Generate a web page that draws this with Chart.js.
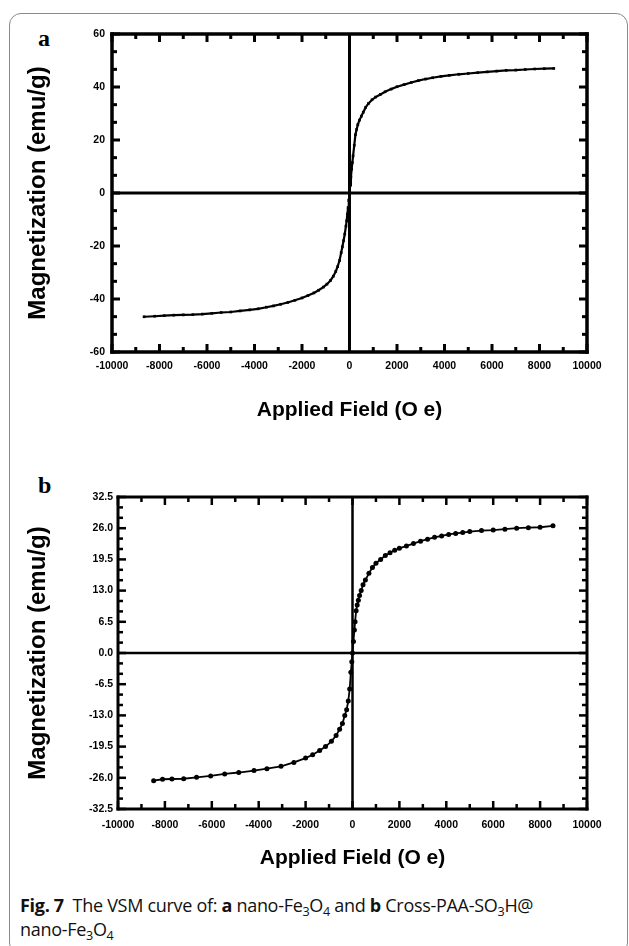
<!DOCTYPE html>
<html>
<head>
<meta charset="utf-8">
<script src="https://cdn.jsdelivr.net/npm/chart.js@4.4.0/dist/chart.umd.min.js"></script>
<style>
  body { margin: 0; background: #fff; width: 629px; height: 946px; overflow: hidden; position: relative; }
  #box { position: absolute; left: 9px; top: 13px; width: 617px; height: 940px; border: 1.5px solid #8a8a8a; border-radius: 12px; }
  .wrap { position: absolute; left: 0; width: 629px; }
  .tag { position: absolute; font: bold 24px "Liberation Serif"; color: #000; }
  #caption { position: absolute; left: 20px; top: 893px; font: 18px "Open Sans"; line-height: 24px; color: #111; letter-spacing: -0.3px; }
  #caption sub { font-size: 0.7em; vertical-align: -0.3em; line-height: 0; }
</style>
</head>
<body>
<div id="box"></div>
<div class="tag" style="left:38px; top:25px;">a</div>
<div class="tag" style="left:38px; top:472px;">b</div>
<div class="wrap" style="top:20px; height:410px;"><canvas id="chartA"></canvas></div>
<div class="wrap" style="top:460px; height:420px;"><canvas id="chartB"></canvas></div>
<div id="caption"><b>Fig. 7</b>&nbsp; The VSM curve of: <b>a</b> nano-Fe<sub>3</sub>O<sub>4</sub> and <b>b</b> Cross-PAA-SO<sub>3</sub>H@<br>nano-Fe<sub>3</sub>O<sub>4</sub></div>
<script>
// a: nano-Fe3O4, field (Oe) vs magnetization (emu/g)
const fieldA = [-8650, -8200, -7800, -7400, -7000, -6600, -6200, -5800, -5400, -5000, -4600, -4200, -3850, -3500,
  -3200, -2900, -2600, -2300, -2000, -1750, -1500, -1300, -1100, -950, -800, -680, -580, -500, -420, -350, -300,
  -250, -200, -150, -120, -90, -60, -30, 0, 30, 60, 90, 120, 150, 200, 250, 300, 350, 420, 500, 580, 680, 800,
  950, 1100, 1300, 1500, 1750, 2000, 2300, 2600, 2900, 3200, 3500, 3850, 4200, 4600, 5000, 5400, 5800, 6200,
  6600, 7000, 7400, 7800, 8200, 8600];
const magA = [-46.7, -46.5, -46.3, -46.1, -46.0, -45.9, -45.7, -45.4, -45.1, -44.9, -44.5, -44.1, -43.7, -43.1,
  -42.6, -42.0, -41.3, -40.5, -39.6, -38.7, -37.7, -36.7, -35.5, -34.4, -33.0, -31.4, -29.6, -27.8, -25.5, -22.5, -20.3,
  -18.0, -15.5, -12.5, -10.5, -8.0, -5.5, -2.8, 0, 3, 6, 9, 11.5, 14, 18, 22, 24, 25.8, 27.5, 29, 30.5, 32.3, 33.8,
  35.2, 36.2, 37.2, 38.2, 39.2, 40.1, 40.9, 41.7, 42.4, 43.0, 43.5, 44.0, 44.4, 44.8, 45.1, 45.4, 45.7, 46.0,
  46.3, 46.4, 46.6, 46.8, 46.9, 47.0];

// b: Cross-PAA-SO3H@nano-Fe3O4
const fieldB = [-8480, -8100, -7700, -7200, -6650, -6050, -5450, -4850, -4200, -3650, -3050, -2500, -2000, -1700,
  -1400, -1150, -900, -700, -550, -430, -330, -250, -180, -120, -70, -30, 0, 40, 80, 110, 155, 200, 250, 300, 370,
  450, 550, 700, 850, 1000, 1200, 1400, 1600, 1800, 2000, 2300, 2600, 2900, 3200, 3500, 3800, 4100, 4400, 4700,
  5000, 5500, 6000, 6500, 7000, 7500, 8000, 8550];
const magB = [-26.6, -26.3, -26.25, -26.2, -25.9, -25.6, -25.2, -24.9, -24.5, -24.1, -23.6, -22.8, -21.9, -21.2,
  -20.3, -19.5, -18.4, -17.2, -15.9, -14.7, -13.0, -11.8, -10.0, -7.5, -4.0, -1.8, 0, 2.4, 4.8, 6.5, 8.8, 10, 11, 12, 13,
  14.2, 15.2, 16.6, 17.8, 18.7, 19.5, 20.3, 20.9, 21.4, 21.8, 22.3, 22.8, 23.3, 23.7, 24.1, 24.4, 24.7, 24.9, 25.1,
  25.3, 25.5, 25.6, 25.8, 26.0, 26.1, 26.2, 26.5];

const xLimits = [-10000, 10000];
const yLimitsA = [-60, 60];
const yLimitsB = [-32.5, 32.5];

// frame, zero axes and inward tick marks (major + minor) on all four sides
function frameTicks(o) {
  return {
    id: 'frameTicks',
    afterDraw(chart) {
      const ctx = chart.ctx, a = chart.chartArea, x = chart.scales.x, y = chart.scales.y;
      ctx.save();
      ctx.fillStyle = '#000';
      const x0 = x.getPixelForValue(0), y0 = y.getPixelForValue(0);
      ctx.fillRect(a.left, y0 - o.zeroWidth / 2, a.right - a.left, o.zeroWidth);
      ctx.fillRect(x0 - o.zeroWidth / 2, a.top, o.zeroWidth, a.bottom - a.top);

      const t = o.tickWidth;
      const nx = Math.round((x.max - x.min) / o.xMinor);
      for (let i = 0; i <= nx; i++) {
        const p = x.getPixelForValue(x.min + i * o.xMinor);
        const len = i % o.xEvery === 0 ? o.major : o.minor;
        ctx.fillRect(p - t / 2, a.bottom - len, t, len);
        ctx.fillRect(p - t / 2, a.top, t, len);
      }
      const ny = Math.round((y.max - y.min) / o.yMinor);
      for (let i = 0; i <= ny; i++) {
        const p = y.getPixelForValue(y.min + i * o.yMinor);
        const len = i % o.yEvery === 0 ? o.major : o.minor;
        ctx.fillRect(a.left, p - t / 2, len, t);
        ctx.fillRect(a.right - len, p - t / 2, len, t);
      }

      const w = o.frameWidth;
      ctx.fillRect(a.left - w / 2, a.top - w / 2, a.right - a.left + w, w);
      ctx.fillRect(a.left - w / 2, a.bottom - w / 2, a.right - a.left + w, w);
      ctx.fillRect(a.left - w / 2, a.top - w / 2, w, a.bottom - a.top + w);
      ctx.fillRect(a.right - w / 2, a.top - w / 2, w, a.bottom - a.top + w);
      ctx.restore();
    }
  };
}

const tickFont = { family: 'Liberation Sans', weight: 'bold', size: 10.5 };
const titleFontY = { family: 'Liberation Sans', weight: 'bold', size: 24 };
const titleFontX = { family: 'Liberation Sans', weight: 'bold', size: 21 };

function makeChart(id, fields, mags, yLim, ySteps, lay, look) {
  const pts = fields.map((f, i) => ({ x: f, y: mags[i] }));
  return new Chart(id, {
    type: 'scatter',
    data: {
      datasets: [{
        data: pts,
        showLine: true,
        borderColor: '#000',
        backgroundColor: '#000',
        borderWidth: look.lineWidth,
        pointStyle: look.pointStyle,
        pointRadius: look.pointRadius,
        pointBorderWidth: 0
      }]
    },
    options: {
      responsive: true,
      maintainAspectRatio: false,
      animation: false,
      events: [],
      layout: { padding: { left: 20, right: 42, top: lay.top, bottom: 0 } },
      plugins: {
        legend: { display: false },
        tooltip: { enabled: false }
      },
      scales: {
        x: {
          type: 'linear', min: xLimits[0], max: xLimits[1],
          afterFit: s => { s.height = lay.xHeight; },
          grid: { display: false, drawTicks: false },
          border: { display: false },
          ticks: { stepSize: 2000, padding: lay.xPad, font: tickFont, color: '#000', maxRotation: 0, autoSkip: false,
            callback: v => String(v) },
          title: { display: true, text: 'Applied Field (O e)', font: titleFontX, color: '#000',
            padding: { top: 0, bottom: lay.xTitlePad } }
        },
        y: {
          type: 'linear', min: yLim[0], max: yLim[1],
          afterFit: s => { s.width = lay.yWidth; },
          grid: { display: false, drawTicks: false },
          border: { display: false },
          ticks: { stepSize: ySteps, padding: lay.yPad, font: tickFont, color: '#000', autoSkip: false,
            callback: v => look.decimals ? v.toFixed(1) : String(Math.round(v)) },
          title: { display: true, text: 'Magnetization (emu/g)', font: titleFontY, color: '#000',
            padding: { top: 4, bottom: 0 } }
        }
      }
    },
    plugins: [frameTicks(look.frame)]
  });
}

makeChart('chartA', fieldA, magA, yLimitsA, 20,
  { top: 14, xHeight: 78, xPad: 8, xTitlePad: 7, yWidth: 92, yPad: 7 },
  { lineWidth: 2.2, pointStyle: 'rect', pointRadius: 1.9, decimals: false,
    frame: { zeroWidth: 3, tickWidth: 3, frameWidth: 3.5, major: 8, minor: 5,
      xMinor: 1000, xEvery: 2, yMinor: 20 / 3, yEvery: 3 } });

makeChart('chartB', fieldB, magB, yLimitsB, 6.5,
  { top: 37, xHeight: 71, xPad: 10, xTitlePad: 9, yWidth: 98, yPad: 5 },
  { lineWidth: 1.8, pointStyle: 'circle', pointRadius: 2.5, decimals: true,
    frame: { zeroWidth: 2.5, tickWidth: 2.5, frameWidth: 3, major: 8, minor: 5,
      xMinor: 1000, xEvery: 2, yMinor: 6.5 / 3, yEvery: 3 } });
</script>
</body>
</html>
